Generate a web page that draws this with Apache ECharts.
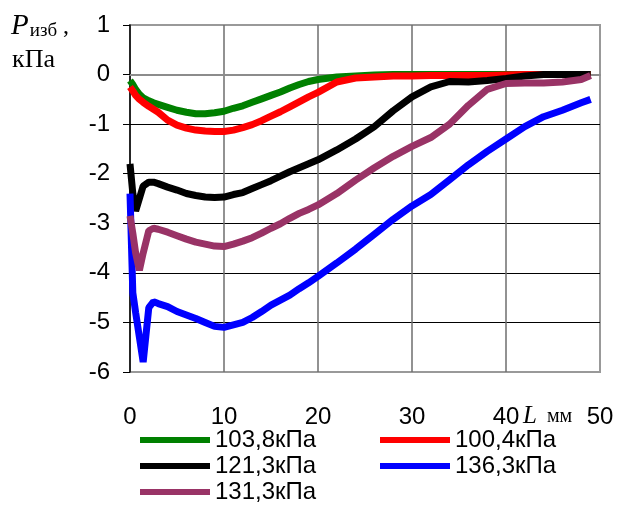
<!DOCTYPE html>
<html>
<head>
<meta charset="utf-8">
<script src="https://cdn.jsdelivr.net/npm/echarts@6/dist/echarts.min.js"></script>
<style>
  html, body { margin: 0; padding: 0; background: #fff; }
  #chart { width: 617px; height: 509px; }
</style>
</head>
<body>
<div id="chart"></div>
<script>
// L, мм
var L = [0, 0.3, 0.6, 1, 1.4, 2, 2.5, 3, 4, 5, 6, 7, 8, 9, 10, 11, 12, 13, 14, 15, 16, 17, 18, 19, 20,
         22, 24, 26, 28, 30, 32, 34, 36, 38, 40, 42, 44, 46, 48, 49];

// P изб, кПа
var p103_8 = [-0.12, -0.2, -0.3, -0.4, -0.47, -0.53, -0.57, -0.6, -0.66, -0.72, -0.76, -0.79, -0.79, -0.77, -0.74,
              -0.68, -0.63, -0.56, -0.49, -0.42, -0.35, -0.27, -0.2, -0.14, -0.1,
              -0.05, -0.03, -0.01, 0, 0, 0, 0, 0, 0, 0, 0, 0, 0, 0, 0];
var p100_4 = [-0.25, -0.33, -0.42, -0.5, -0.56, -0.64, -0.7, -0.76, -0.92, -1.02, -1.08, -1.12, -1.14, -1.15, -1.15,
              -1.12, -1.07, -1.01, -0.93, -0.84, -0.75, -0.65, -0.55, -0.45, -0.36,
              -0.15, -0.07, -0.05, -0.03, -0.03, -0.02, -0.02, -0.02, -0.02, -0.01, 0, 0, 0, 0, 0];
var p121_3 = [-1.8, -2.4, -2.75, -2.5, -2.25, -2.17, -2.17, -2.2, -2.27, -2.33, -2.4, -2.44, -2.47, -2.48, -2.47,
              -2.42, -2.38, -2.3, -2.22, -2.14, -2.05, -1.96, -1.88, -1.8, -1.72,
              -1.52, -1.3, -1.05, -0.73, -0.45, -0.25, -0.14, -0.15, -0.12, -0.08, -0.03, 0, 0, 0, 0];
var p136_3 = [-2.4, -4.4, -4.8, -5.3, -5.8, -4.7, -4.58, -4.62, -4.68, -4.78, -4.85, -4.92, -5.0, -5.08, -5.1,
              -5.05, -5.0, -4.9, -4.78, -4.65, -4.55, -4.45, -4.32, -4.2, -4.07,
              -3.8, -3.52, -3.22, -2.92, -2.65, -2.42, -2.12, -1.82, -1.55, -1.3, -1.05, -0.85, -0.72, -0.57, -0.5];
var p131_3 = [-2.85, -3.2, -3.6, -3.95, -3.6, -3.15, -3.1, -3.12, -3.18, -3.25, -3.32, -3.38, -3.42, -3.46, -3.47,
              -3.42, -3.36, -3.29, -3.2, -3.1, -3.01, -2.9, -2.8, -2.72, -2.63,
              -2.4, -2.13, -1.88, -1.65, -1.45, -1.27, -1.0, -0.62, -0.3, -0.18, -0.17, -0.17, -0.15, -0.1, -0.02];

var names = ['103,8кПа', '100,4кПа', '121,3кПа', '136,3кПа', '131,3кПа'];
var colors = ['#008000', '#ff0000', '#000000', '#0000ff', '#993366'];
var values = [p103_8, p100_4, p121_3, p136_3, p131_3];

var xTicks = [0, 10, 20, 30, 40, 50];
var yTicks = [1, 0, -1, -2, -3, -4, -5, -6];

var sans = 'Liberation Sans, Arial, sans-serif';
var serif = 'Liberation Serif, Times New Roman, serif';

var chart = echarts.init(document.getElementById('chart'));

var legendCol = function (left, data) {
    return {
        orient: 'vertical',
        left: left,
        top: 428,
        padding: 0,
        height: 80,
        itemWidth: 70,
        itemHeight: 6,
        itemGap: 2,
        icon: 'rect',
        textStyle: { color: '#000', fontSize: 24, fontFamily: sans, lineHeight: 24 },
        data: data
    };
};

var option = {
    animation: false,
    backgroundColor: '#ffffff',
    grid: {
        left: 130,
        right: 17,
        top: 25,
        bottom: 137,
        show: true,
        borderColor: '#999999',
        borderWidth: 2
    },
    xAxis: {
        type: 'value',
        min: xTicks[0],
        max: xTicks[xTicks.length - 1],
        interval: 10,
        axisLine: { show: true, lineStyle: { color: '#8c8c8c', width: 2 } },
        axisTick: { show: false },
        axisLabel: { color: '#000', fontSize: 24, fontFamily: sans, margin: 33 },
        splitLine: {
            show: true,
            showMinLine: false,
            showMaxLine: false,
            lineStyle: { color: '#6e6e6e', width: 1.5 }
        }
    },
    yAxis: {
        type: 'value',
        min: yTicks[yTicks.length - 1],
        max: yTicks[0],
        interval: 1,
        axisLine: { show: true, lineStyle: { color: '#000', width: 1.5 } },
        axisTick: { show: true, inside: false, length: 7, lineStyle: { color: '#000', width: 1 } },
        axisLabel: { color: '#000', fontSize: 24, fontFamily: sans, margin: 20 },
        splitLine: {
            show: true,
            showMinLine: false,
            showMaxLine: false,
            lineStyle: { color: '#000', width: 1 }
        }
    },
    legend: [
        legendCol(140, [names[0], names[2], names[4]]),
        legendCol(380, [names[1], names[3]])
    ],
    graphic: [
        {
            type: 'text',
            left: 11,
            top: 12,
            style: {
                text: '{p|P}{s|изб}{c| ,}',
                rich: {
                    p: { fontFamily: serif, fontStyle: 'italic', fontSize: 29, fill: '#000' },
                    s: { fontFamily: serif, fontSize: 19, fill: '#000', padding: [10, 0, 0, 1] },
                    c: { fontFamily: serif, fontSize: 24, fill: '#000' }
                }
            }
        },
        {
            type: 'text',
            left: 12,
            top: 47,
            style: { text: 'кПа', fontFamily: serif, fontSize: 26, fill: '#000' }
        },
        {
            type: 'text',
            left: 523,
            top: 404,
            style: {
                text: '{l|L}{m|  мм}',
                rich: {
                    l: { fontFamily: serif, fontStyle: 'italic', fontSize: 25, fill: '#000' },
                    m: { fontFamily: serif, fontSize: 20, fill: '#000' }
                }
            }
        }
    ],
    series: names.map(function (n, k) {
        return {
            name: n,
            type: 'line',
            showSymbol: false,
            color: colors[k],
            lineStyle: { width: 7, color: colors[k] },
            data: L.map(function (x, i) { return [x, values[k][i]]; })
        };
    })
};

chart.setOption(option);
</script>
</body>
</html>
